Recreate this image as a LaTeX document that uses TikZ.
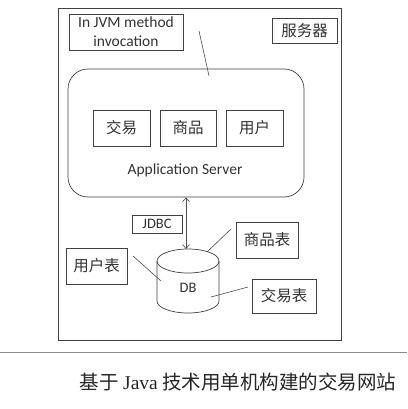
\documentclass[tikz,border=0pt]{standalone}
\usepackage{fontspec}
\setmainfont{Carlito}
\newfontfamily\cjk{Noto Sans CJK SC}
\newfontfamily\capserif{Liberation Serif}
\usetikzlibrary{positioning,arrows.meta}

\tikzset{
  box/.style={draw=black!75, line width=0.7pt, inner sep=0pt, text=black!80},
  lbl/.style={text=black!80, font=\fontsize{15.5}{17}\selectfont},
  link/.style={draw=black!70, line width=0.6pt}
}

\begin{document}
\begin{tikzpicture}[x=1pt,y=-1pt]
    \useasboundingbox (0,0) rectangle (407,409);
    \fill[white] (0,0) rectangle (407,409);

    % server frame
    \node[box, minimum width=283pt, minimum height=332pt] (server) at (199.5,174) {};
    \node[box, lbl, minimum width=65pt, minimum height=25pt] (fwq) at (304.5,30.5) {\cjk 服务器};
    \node[box, lbl, minimum width=114pt, minimum height=36pt, align=center,
          font=\fontsize{15.5}{19}\selectfont] (jvm) at (126,32) {In JVM method\\invocation};

    % application server
    \node[box, rounded corners=20pt, minimum width=236pt, minimum height=128pt] (app) at (186,133) {};
    \node[box, lbl, minimum width=57pt, minimum height=36pt] (jy) at (121.5,128) {\cjk 交易};
    \node[box, lbl, minimum width=56pt, minimum height=36pt] (sp) at (188,128) {\cjk 商品};
    \node[box, lbl, minimum width=57pt, minimum height=36pt] (yh) at (254.5,128) {\cjk 用户};
    \node[lbl] (appname) at (185,170) {Application Server};

    \coordinate (jvmtop) at (199,31);
    \coordinate (jvmend) at (209,76);
    \draw[link] (jvmtop) -- (jvmend);

    % database
    \draw[black!75, line width=0.7pt] (188,261) ellipse [x radius=31, y radius=12];
    \draw[black!75, line width=0.7pt] (157,261) -- (157,301)
        arc[start angle=180, end angle=0, x radius=31, y radius=12] -- (219,261);
    \node[lbl, font=\fontsize{14.5}{16}\selectfont] (db) at (188,288) {DB};
    \coordinate (dbtop) at (188,249);

    \draw[link, {Straight Barb[length=4pt,width=7pt]}-{Straight Barb[length=4pt,width=7pt]}]
        (app.south) -- (app.south |- dbtop);
    \node[box, lbl, font=\fontsize{14.5}{16}\selectfont, minimum width=50pt, minimum height=18pt] (jdbc) at (157,224) {JDBC};

    \node[box, lbl, minimum width=62pt, minimum height=36pt] (spb) at (267,240) {\cjk 商品表};
    \node[box, lbl, minimum width=61pt, minimum height=36pt] (yhb) at (96.5,266) {\cjk 用户表};
    \node[box, lbl, minimum width=64pt, minimum height=34pt] (jyb) at (284,296) {\cjk 交易表};

    \coordinate (spa) at (231,229);
    \coordinate (spz) at (207,252);
    \coordinate (yha) at (133,256);
    \coordinate (yhz) at (161,281);
    \coordinate (jya) at (248,287);
    \coordinate (jyz) at (211,297);
    \draw[link] (spa) -- (spz);
    \draw[link] (yha) -- (yhz);
    \draw[link] (jya) -- (jyz);

    % caption
    \draw[black!45, line width=0.6pt] (0,352) -- (407,352);
    \node[text=black!85, font=\fontsize{19.5}{21}\selectfont] (caption) at (238,382)
        {\cjk 基于\ {\capserif Java}\ 技术用单机构建的交易网站};
\end{tikzpicture}
\end{document}
